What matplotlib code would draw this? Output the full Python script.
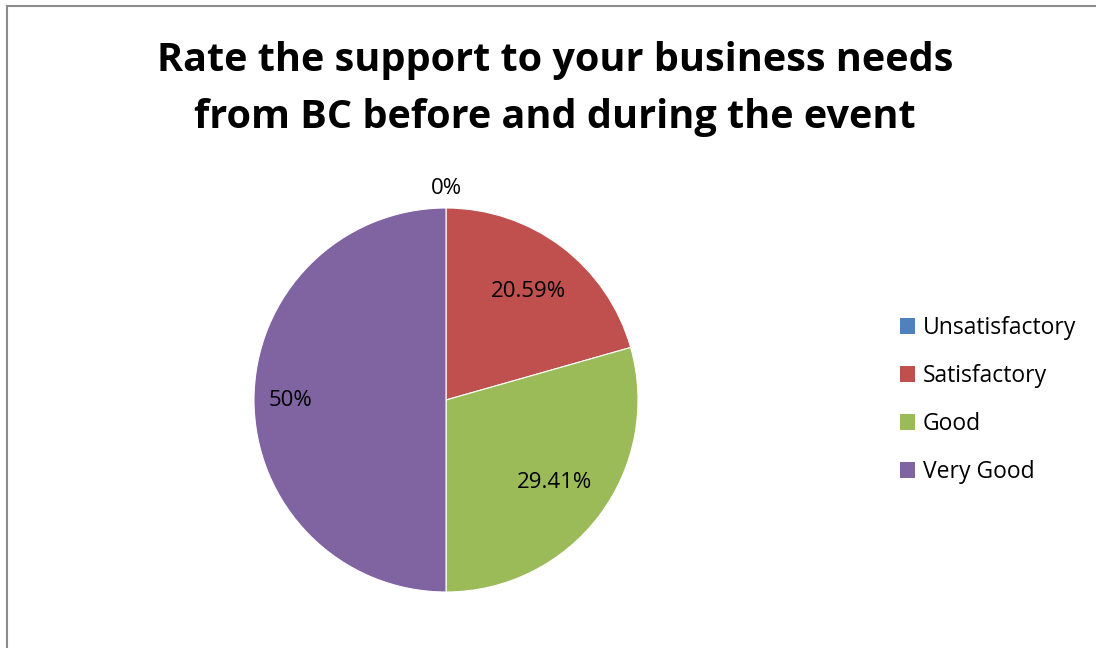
import numpy as np
import matplotlib.pyplot as plt
from matplotlib.lines import Line2D
from matplotlib.patches import Patch

# Survey responses (percent of respondents)
categories = ["Unsatisfactory", "Satisfactory", "Good", "Very Good"]
shares = [0.0, 20.59, 29.41, 50.0]
value_labels = ["0%", "20.59%", "29.41%", "50%"]
colors = ["#4F81BD", "#C0504D", "#9BBB59", "#8064A2"]

title = "Rate the support to your business needs\nfrom BC before and during the event"

plt.rcParams["font.family"] = ["Open Sans", "DejaVu Sans"]

fig = plt.figure(figsize=(10.96, 6.48), dpi=100)
W, H = 1096, 648

# outer chart frame (left and top edges only are visible)
fig.add_artist(Line2D([7 / W, 7 / W], [0, 1 - 6 / H], transform=fig.transFigure,
                      color="#8c8c8c", lw=1.5))
fig.add_artist(Line2D([7 / W, 1], [1 - 6 / H, 1 - 6 / H], transform=fig.transFigure,
                      color="#8c8c8c", lw=1.5))

# pie axes: center at (446, 400) px, radius 192 px
cx, cy, r = 446, 400, 192
ax = fig.add_axes([(cx - r) / W, 1 - (cy + r) / H, 2 * r / W, 2 * r / H])
ax.pie(shares, colors=colors, startangle=90, counterclock=False,
       wedgeprops=dict(edgecolor="white", linewidth=0.8))
ax.set_xlim(-1, 1)
ax.set_ylim(-1, 1)
ax.set_aspect("equal")
ax.axis("off")

# data labels at each slice's mid angle
label_dist = [1.10, 0.71, 0.71, 0.81]
start = 0.0
total = sum(shares)
for val, lab, d in zip(shares, value_labels, label_dist):
    mid = start + val / 2
    ang = np.deg2rad(90 - mid / total * 360)
    ax.text(d * np.cos(ang), d * np.sin(ang), lab, ha="center", va="center",
            fontsize=16, color="black", clip_on=False)
    start += val

fig.text(555 / W, 1 - 89 / H, title, ha="center", va="center", fontsize=28.5,
         fontweight="bold", linespacing=1.62)

handles = [Patch(facecolor=c, edgecolor="none") for c in colors]
fig.legend(handles, categories, loc="center left", bbox_to_anchor=(879 / W, 1 - 400 / H),
           frameon=False, fontsize=16.5, handlelength=0.65, handleheight=0.65,
           handletextpad=0.35, labelspacing=1.05)

fig.savefig("out.png", dpi=100, facecolor="white")
